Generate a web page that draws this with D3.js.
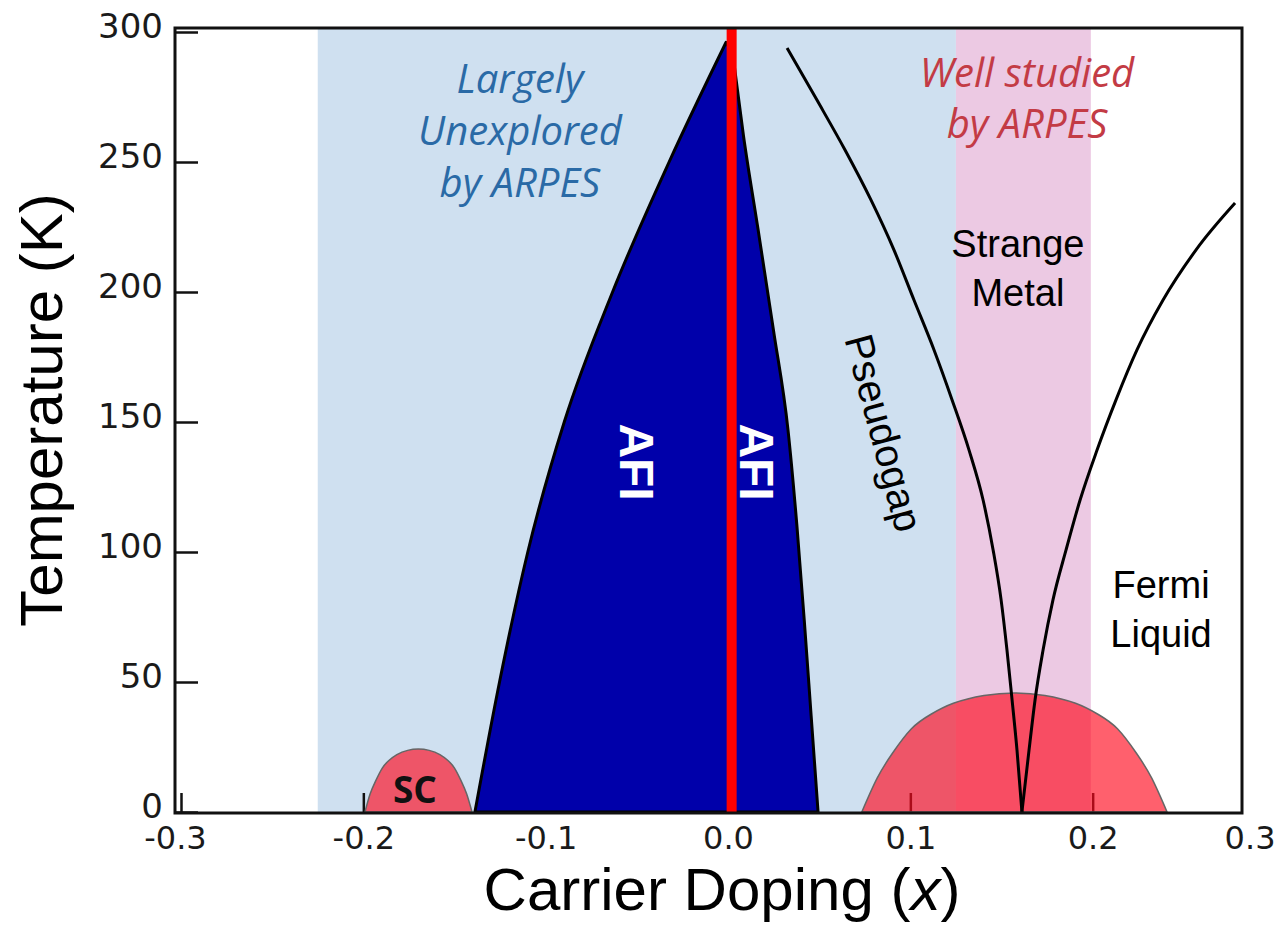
<!DOCTYPE html>
<html>
<head>
<meta charset="utf-8">
<script src="https://cdn.jsdelivr.net/npm/d3@7"></script>
<style>
  body { margin: 0; background: #fff; }
  svg { display: block; }
</style>
</head>
<body>
<div id="chart"></div>
<script>
// axis ticks
var xTicks = [-0.3, -0.2, -0.1, 0.0, 0.1, 0.2, 0.3];
var yTicks = [0, 50, 100, 150, 200, 250, 300];

// shaded doping ranges [x0, x1]
var unexploredBand = [-0.225, 0.125];
var wellStudiedBand = [0.125, 0.199];

// antiferromagnetic dome, [doping, T]
var afiLeft = [[-0.1388, 0], [-0.1253, 50], [-0.1098, 100], [-0.0898, 150],
               [-0.0633, 200], [-0.0323, 250], [-0.0011, 296]];
var afiRight = [[0.0025, 292], [0.0085, 260], [0.0165, 224], [0.0250, 185], [0.0329, 147],
                [0.0378, 110], [0.0418, 74], [0.0456, 37], [0.0494, 0]];

// superconducting domes
var scElectron = [[-0.1991, 0], [-0.1963, 6.9], [-0.1933, 11.9], [-0.1896, 16.9],
                  [-0.1860, 19.8], [-0.1816, 22.1], [-0.1757, 23.7], [-0.1698, 24.2],
                  [-0.1639, 23.7], [-0.1580, 22.1], [-0.1536, 19.8], [-0.1500, 16.9],
                  [-0.1463, 11.9], [-0.1433, 6.9], [-0.1404, 0]];
var scHole = [[0.0734, 0], [0.0818, 13.0], [0.0901, 22.5], [0.1006, 32.0], [0.1111, 37.5],
              [0.1236, 41.8], [0.1404, 44.8], [0.1571, 45.8], [0.1738, 44.8], [0.1906, 41.8],
              [0.2031, 37.5], [0.2136, 32.0], [0.2241, 22.5], [0.2324, 13.0], [0.2408, 0]];

// crossover lines
var pseudogapLine = [[0.0324, 293.8], [0.0488, 273.8], [0.0642, 254.6], [0.0784, 235.4],
                     [0.0910, 216.2], [0.1020, 196.9], [0.1130, 177.7], [0.1229, 158.5],
                     [0.1322, 139.2], [0.1399, 120], [0.1454, 100.8], [0.1498, 81.5],
                     [0.1530, 62.3], [0.1558, 43.1], [0.1585, 23.8], [0.1612, 0]];
var fermiLine = [[0.1612, 0], [0.1651, 23.8], [0.1684, 43.1], [0.1728, 62.3], [0.1782, 81.5],
                 [0.1854, 100.8], [0.1931, 120], [0.2024, 139.2], [0.2128, 158.5],
                 [0.2243, 177.7], [0.2386, 196.9], [0.2567, 216.2], [0.2781, 234.2]];

var parentLine = 0.002;

// labels, anchored in data coordinates
var labels = [
  {lines: ["Largely", "Unexplored", "by ARPES"], x: -0.1141, t: 276.5, cls: "unexp"},
  {lines: ["Well studied", "by ARPES"], x: 0.164, t: 278.8, cls: "well"},
  {lines: ["Strange", "Metal"], x: 0.159, t: 213.5, cls: "phase"},
  {lines: ["Fermi", "Liquid"], x: 0.2375, t: 82.3, cls: "phase"}
];
var rotLabels = [
  {text: "Pseudogap", x: 0.0855, t: 145.8, angle: 75, cls: "pseudo"},
  {text: "AFI", x: -0.0499, t: 134.6, angle: 90, cls: "afi"},
  {text: "AFI", x: 0.0159, t: 134.6, angle: 90, cls: "afi"}
];

var width = 1280, height = 927;
var box = {left: 175, top: 28, right: 1242, bottom: 813};

var svg = d3.select("#chart").append("svg")
    .attr("width", width)
    .attr("height", height);

var xs = d3.scaleLinear().domain([-0.3, 0.3]).range([181, 1275]);
var ys = d3.scaleLinear().domain([0, 300]).range([812, 32]);

var line = d3.line()
    .x(function(d) { return xs(d[0]); })
    .y(function(d) { return ys(d[1]); })
    .curve(d3.curveMonotoneX);

var domeLine = d3.line()
    .x(function(d) { return xs(d[0]); })
    .y(function(d) { return ys(d[1]); })
    .curve(d3.curveNatural);

// bands
svg.append("rect")
    .attr("x", xs(unexploredBand[0])).attr("y", box.top)
    .attr("width", xs(unexploredBand[1]) - xs(unexploredBand[0]))
    .attr("height", box.bottom - box.top)
    .attr("fill", "#cfe0f0");
svg.append("rect")
    .attr("x", xs(wellStudiedBand[0])).attr("y", box.top)
    .attr("width", xs(wellStudiedBand[1]) - xs(wellStudiedBand[0]))
    .attr("height", box.bottom - box.top)
    .attr("fill", "#ecc9e3");

// axes (ticks point inward)
var fmt = d3.format(".1f");
var xAxis = svg.append("g")
    .attr("transform", "translate(0," + box.bottom + ")")
    .call(d3.axisBottom(xs).tickValues(xTicks).tickSize(-20).tickPadding(12)
        .tickFormat(function(d) { return fmt(d).replace("\u2212", "-"); }));
var yAxis = svg.append("g")
    .attr("transform", "translate(" + box.left + ",0)")
    .call(d3.axisLeft(ys).tickValues(yTicks).tickSize(-23).tickPadding(12));

[xAxis, yAxis].forEach(function(ax) {
  ax.select(".domain").remove();
  ax.selectAll(".tick line").attr("stroke", "#111").attr("stroke-width", 2.5);
  ax.selectAll(".tick text")
      .attr("fill", "#1a1a1a")
      .style("font-family", "'DejaVu Sans', sans-serif")
      .style("font-size", "34px");
});
xAxis.selectAll(".tick text").style("font-size", "32px");
yAxis.selectAll(".tick text").attr("dy", "0.16em");
xAxis.selectAll(".tick text").attr("dy", "0.76em");
xAxis.selectAll(".tick").filter(function(d) { return d >= 0.3; })
    .select("line").remove();
xAxis.selectAll(".tick").filter(function(d) { return d >= 0.3; })
    .select("text").attr("text-anchor", "end");
xAxis.selectAll(".tick").filter(function(d) { return d <= -0.3; })
    .select("text").attr("dx", -6);

// superconducting domes
[scElectron, scHole].forEach(function(pts) {
  svg.append("path")
      .attr("d", domeLine(pts) + "Z")
      .attr("fill", "#ff0a1e")
      .attr("fill-opacity", 0.65)
      .attr("stroke", "#666")
      .attr("stroke-width", 1.5);
});

// AFI dome: two edges meeting in a cusp
var leftD = line(afiLeft);
var rightD = line(afiRight).replace(/^M/, "L");
svg.append("path")
    .attr("d", leftD + rightD + "Z")
    .attr("fill", "#0000aa")
    .attr("stroke", "#000")
    .attr("stroke-width", 3)
    .attr("stroke-linejoin", "round");

// parent compound line
svg.append("line")
    .attr("x1", xs(parentLine)).attr("x2", xs(parentLine))
    .attr("y1", box.top).attr("y2", box.bottom)
    .attr("stroke", "#ff0000")
    .attr("stroke-width", 10);

// crossover lines
[pseudogapLine, fermiLine].forEach(function(pts) {
  svg.append("path")
      .attr("d", line(pts))
      .attr("fill", "none")
      .attr("stroke", "#000")
      .attr("stroke-width", 3);
});

// frame
svg.append("rect")
    .attr("x", box.left).attr("y", box.top)
    .attr("width", box.right - box.left)
    .attr("height", box.bottom - box.top)
    .attr("fill", "none")
    .attr("stroke", "#111")
    .attr("stroke-width", 3);

// text styles
var styles = {
  unexp: {family: "'Open Sans', sans-serif", size: 40, color: "#2a6aa6", italic: true, weight: 400, lh: 52},
  well: {family: "'Open Sans', sans-serif", size: 40, color: "#c33b45", italic: true, weight: 400, lh: 51},
  phase: {family: "'Liberation Sans', Arial, sans-serif", size: 38, color: "#000", italic: false, weight: 400, lh: 49},
  pseudo: {family: "'Liberation Sans', Arial, sans-serif", size: 40, color: "#000", italic: false, weight: 400, lh: 0},
  afi: {family: "'Liberation Sans', Arial, sans-serif", size: 48, color: "#fff", italic: false, weight: 700, lh: 0}
};

function styleText(sel, s) {
  sel.style("font-family", s.family)
     .style("font-size", s.size + "px")
     .style("font-style", s.italic ? "italic" : "normal")
     .style("font-weight", s.weight)
     .attr("fill", s.color);
}

labels.forEach(function(l) {
  var s = styles[l.cls];
  var t = svg.append("text")
      .attr("x", xs(l.x)).attr("y", ys(l.t))
      .attr("text-anchor", "middle");
  styleText(t, s);
  l.lines.forEach(function(str, i) {
    t.append("tspan")
        .attr("x", xs(l.x))
        .attr("dy", i === 0 ? 0 : s.lh)
        .text(str);
  });
});

rotLabels.forEach(function(l) {
  var t = svg.append("text")
      .attr("transform", "translate(" + xs(l.x) + "," + ys(l.t) + ") rotate(" + l.angle + ")")
      .attr("text-anchor", "middle")
      .attr("dy", "0.35em")
      .text(l.text);
  styleText(t, styles[l.cls]);
});

// SC label
svg.append("text")
    .attr("x", xs(-0.1717)).attr("y", ys(3.5))
    .attr("text-anchor", "middle")
    .style("font-family", "'Open Sans', sans-serif")
    .style("font-size", "37px")
    .style("font-weight", 700)
    .attr("fill", "#111")
    .text("SC");

// axis titles
svg.append("text")
    .attr("transform", "translate(62,410) rotate(-90)")
    .attr("text-anchor", "middle")
    .style("font-family", "'Liberation Sans', Arial, sans-serif")
    .style("font-size", "60px")
    .attr("fill", "#000")
    .text("Temperature (K)");

var xt = svg.append("text")
    .attr("x", 722).attr("y", 910)
    .attr("text-anchor", "middle")
    .style("font-family", "'Liberation Sans', Arial, sans-serif")
    .style("font-size", "60px")
    .attr("fill", "#000");
xt.append("tspan").text("Carrier Doping (");
xt.append("tspan").style("font-style", "italic").text("x");
xt.append("tspan").text(")");
</script>
</body>
</html>
